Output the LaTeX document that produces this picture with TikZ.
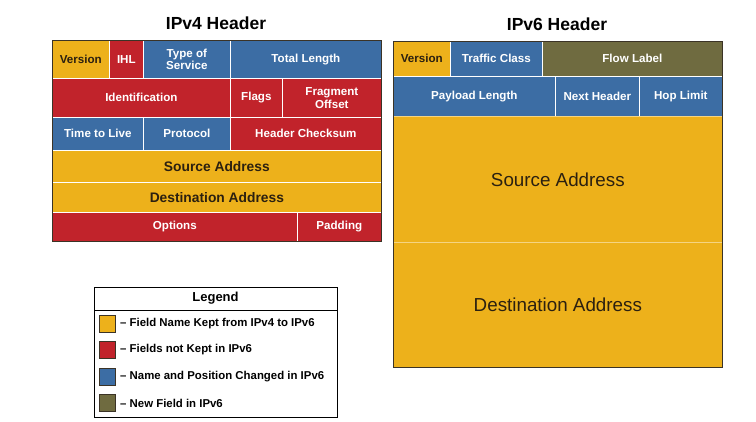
\documentclass[tikz,border=0pt]{standalone}
\usepackage{fontspec}
\setmainfont{Liberation Sans}
\definecolor{yel}{HTML}{EDB11B}
\definecolor{rd}{HTML}{C1232B}
\definecolor{bl}{HTML}{3C6DA4}
\definecolor{ol}{HTML}{6F6B40}
\definecolor{dk}{HTML}{2B2010}
\definecolor{frm}{HTML}{3B3326}
\tikzset{
  fld/.style={draw=white, line width=0.7pt, inner sep=1pt, anchor=north west, align=center,
    font=\fontsize{11.6}{12.5}\selectfont\bfseries, text=white},
  yf/.style={fld, fill=yel, text=dk},
  rf/.style={fld, fill=rd},
  bf/.style={fld, fill=bl},
  of/.style={fld, fill=ol},
  big/.style={font=\fontsize{13.8}{15}\selectfont\bfseries},
  frame/.style={draw=frm, line width=1.4pt, anchor=north west, inner sep=0pt},
  ttl/.style={font=\fontsize{17.5}{20}\selectfont\bfseries, text=black},
  sw/.style={draw=frm, line width=0.6pt, minimum width=16pt, minimum height=17pt, inner sep=0pt, anchor=west},
  lgt/.style={font=\fontsize{11.4}{13}\selectfont\bfseries, anchor=west, inner sep=0pt}
}
\newcommand\fld[7]{\node[#5, minimum width={(#3-#1)*1pt}, minimum height={(#4-#2)*1pt}] (#6) at (#1,#2) {#7};}
\begin{document}
\begin{tikzpicture}[x=1pt,y=-1pt]
\useasboundingbox (0,0) rectangle (756,422);
\fill[white] (0,0) rectangle (756,422);
% IPv4
\node[ttl] (t4) at (216,23) {IPv4 Header};
\fld{52}{40}{109}{78}{yf}{v4ver}{Version}
\fld{109}{40}{143}{78}{rf}{v4ihl}{IHL}
\fld{143}{40}{230}{78}{bf}{v4tos}{Type of\\Service}
\fld{230}{40}{381}{78}{bf}{v4tl}{Total Length}
\fld{52}{78}{230}{117}{rf}{v4id}{Identification}
\fld{230}{78}{282}{117}{rf}{v4fl}{Flags}
\fld{282}{78}{381}{117}{rf}{v4fo}{Fragment\\Offset}
\fld{52}{117}{143}{150}{bf}{v4ttl}{Time to Live}
\fld{143}{117}{230}{150}{bf}{v4pr}{Protocol}
\fld{230}{117}{381}{150}{rf}{v4hc}{Header Checksum}
\fld{52}{150}{381}{182}{yf,big}{v4sa}{Source Address}
\fld{52}{182}{381}{212}{yf,big}{v4da}{Destination Address}
\fld{52}{212}{297}{241}{rf}{v4op}{Options}
\fld{297}{212}{381}{241}{rf}{v4pa}{Padding}
\node[frame, minimum width=329pt, minimum height=201pt] (f4) at (52,40) {};
% IPv6
\node[ttl] (t6) at (557,24) {IPv6 Header};
\fld{393}{41}{450}{76}{yf}{v6ver}{Version}
\fld{450}{41}{542}{76}{bf}{v6tc}{Traffic Class}
\fld{542}{41}{722}{76}{of}{v6fl}{Flow Label}
\fld{393}{76}{555}{116}{bf}{v6pl}{Payload Length}
\fld{555}{76}{639}{116}{bf}{v6nh}{Next Header}
\fld{639}{76}{722}{116}{bf}{v6hl}{Hop Limit}
\node[yf, draw=yel!55!white, font=\fontsize{18.8}{21}\selectfont, minimum width=329pt, minimum height=126pt] (v6sa) at (393,116) {Source Address};
\node[yf, draw=yel!55!white, font=\fontsize{18.8}{21}\selectfont, minimum width=329pt, minimum height=125pt] (v6da) at (393,242) {Destination Address};
\node[frame, minimum width=329pt, minimum height=326pt] (f6) at (393,41) {};
% Legend
\node[draw=black, line width=1pt, anchor=north west, minimum width=243pt, minimum height=130pt, inner sep=0pt] (lg) at (94,287) {};
\coordinate (hl) at (94,310);
\coordinate (hr) at (337,310);
\draw[black, line width=0.8pt] (hl) -- (hr);
\node[font=\fontsize{13}{14}\selectfont\bfseries] (lgt) at (215.5,298.5) {Legend};
\node[sw, fill=yel] (s1) at (99,324) {};
\node[sw, fill=rd] (s2) at (99,350) {};
\node[sw, fill=bl] (s3) at (99,377) {};
\node[sw, fill=ol] (s4) at (99,403) {};
\node[lgt] (l1) at (120,324) {-- Field Name Kept from IPv4 to IPv6};
\node[lgt] (l2) at (120,350) {-- Fields not Kept in IPv6};
\node[lgt] (l3) at (120,377) {-- Name and Position Changed in IPv6};
\node[lgt] (l4) at (120,403) {-- New Field in IPv6};
\end{tikzpicture}
\end{document}
